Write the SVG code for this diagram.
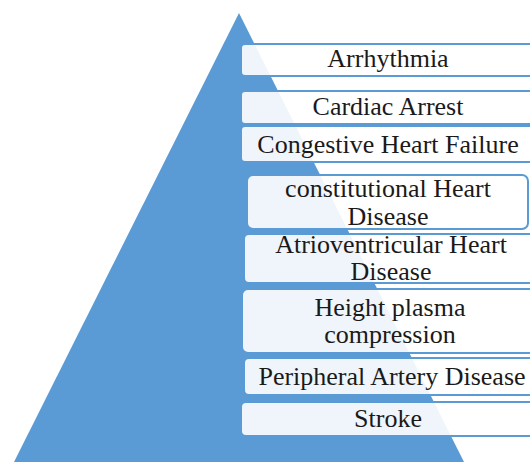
<svg xmlns="http://www.w3.org/2000/svg" width="530" height="462" viewBox="0 0 530 462">
<style>
.tri{fill:#5b9bd5}
.box{fill:#ffffff;fill-opacity:0.9;stroke:#5b9bd5;stroke-width:2}
.t{font-family:"Liberation Serif","Times New Roman",serif;font-size:26px;fill:#1a1a1a;text-anchor:middle}
</style>
<rect width="530" height="462" fill="#ffffff"/>
<polygon class="tri" points="239,13 13,464 465,464"/>
<g id="n1"><rect class="box" x="241" y="44" width="300" height="32" rx="4"/><text class="t" x="388" y="67">Arrhythmia</text></g>
<g id="n2"><rect class="box" x="241" y="91" width="300" height="33" rx="4"/><text class="t" x="388" y="115">Cardiac Arrest</text></g>
<g id="n3"><rect class="box" x="241" y="126" width="300" height="36" rx="4"/><text class="t" x="388" y="153">Congestive Heart Failure</text></g>
<g id="n4"><rect class="box" x="247" y="175" width="281" height="54" rx="6"/><text class="t" x="388" y="197">constitutional Heart</text><text class="t" x="388" y="225">Disease</text></g>
<g id="n5"><rect class="box" x="244" y="234" width="300" height="49" rx="5"/><text class="t" x="391" y="253">Atrioventricular Heart</text><text class="t" x="391" y="280">Disease</text></g>
<g id="n6"><rect class="box" x="242" y="289" width="300" height="64" rx="6"/><text class="t" x="390" y="316">Height plasma</text><text class="t" x="390" y="343">compression</text></g>
<g id="n7"><rect class="box" x="244" y="358" width="300" height="37" rx="5"/><text class="t" x="392" y="385">Peripheral Artery Disease</text></g>
<g id="n8"><rect class="box" x="241" y="402" width="300" height="34" rx="5"/><text class="t" x="388" y="427">Stroke</text></g>
<g id="connectors"></g>
</svg>
